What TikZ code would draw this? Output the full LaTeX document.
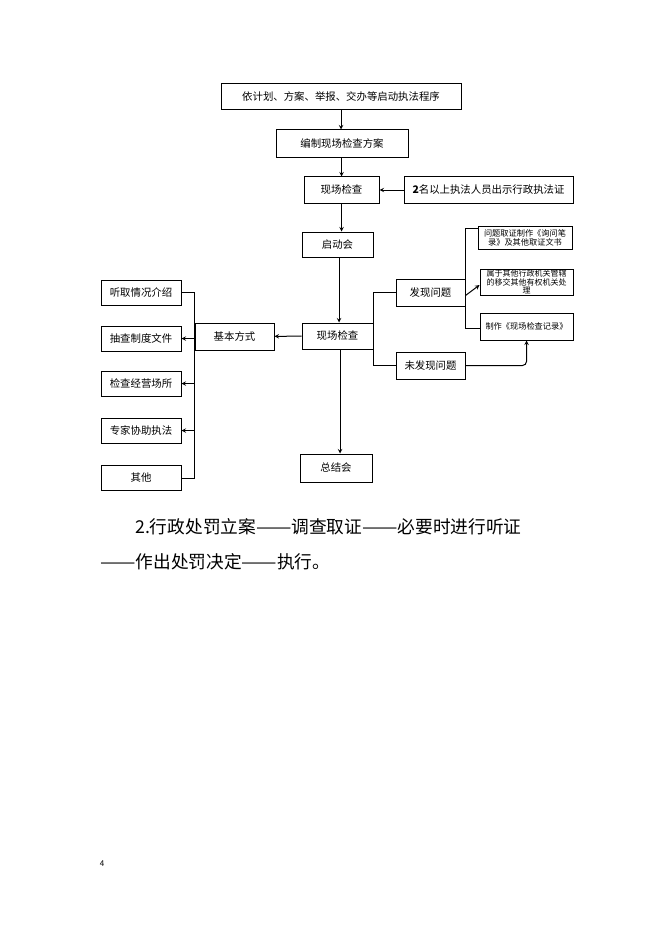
\documentclass[tikz,border=0pt]{standalone}
\usepackage{graphicx}
\usepackage{fontspec}
\setmainfont{Noto Sans CJK SC}
\newcommand{\longdash}{\resizebox{2em}{\height}{——}}

\begin{document}
\begin{tikzpicture}[x=1pt,y=-1pt,
    box/.style={draw, line width=1pt, inner sep=0pt, minimum height=26pt,
      font=\fontsize{10.4pt}{12pt}\selectfont},
    smallbox/.style={box, align=center, font=\fontsize{8.2pt}{8.8pt}\selectfont},
    link/.style={line width=1pt}]
	\def\xLEFT{141};
	\def\xRIGHT{526.5};

	\useasboundingbox (0,0) rectangle (662,936);

	% main column
	\node[box, minimum width=240pt] (start) at (341,97) {依计划、方案、举报、交办等启动执法程序};
	\node[box, minimum width=132pt, minimum height=28pt] (plan) at (342,144) {编制现场检查方案};
	\node[box, minimum width=75pt] (check) at (341.5,190) {现场检查};
	\node[box, minimum width=169pt] (staff) at (488.5,190) {\textbf{2}名以上执法人员出示行政执法证};
	\node[box, minimum width=71pt, minimum height=25pt] (kickoff) at (337.5,244.5) {启动会};
	\node[box, minimum width=71pt] (onsite) at (337.5,336) {现场检查};
	\node[box, minimum width=72pt, minimum height=28pt] (summary) at (336,468) {总结会};

	% left side
	\node[box, minimum width=79pt, minimum height=27pt] (basic) at (234.5,336.5) {基本方式};
	\foreach \name/\y/\txt in {listen/292.5/听取情况介绍, docs/338.5/抽查制度文件,
	    site/383.5/检查经营场所, expert/430.5/专家协助执法, other/478/其他}
	{
		\node[box, minimum width=80pt, minimum height=25pt] (\name) at (\xLEFT,\y) {\txt};
	}

	% right side
	\node[box, minimum width=69pt, minimum height=27pt] (found) at (430.5,292.5) {发现问题};
	\node[box, minimum width=69pt, minimum height=27pt] (notfound) at (430.5,365.5) {未发现问题};
	\node[smallbox, minimum width=94pt, minimum height=23pt] (evidence) at (525,237.5) {问题取证制作《询问笔\\录》及其他取证文书};
	\node[smallbox, minimum width=93pt, minimum height=26pt, font=\fontsize{8pt}{8.2pt}\selectfont] (transfer) at (\xRIGHT,282) {属于其他行政机关管辖\\的移交其他有权机关处\\理};
	\node[smallbox, minimum width=93pt, minimum height=27pt] (record) at (\xRIGHT,326.5) {制作《现场检查记录》};

	\begin{scope}[link, -stealth]
		\draw (start) -- (start |- plan.north);
		\draw (plan.south -| check) -- (check);
		\draw (staff) -- (check);
		\draw (check.south) -- (check.south |- kickoff.north);
		\draw (kickoff.south -| 339,0) -- (339,0 |- onsite.north);
		\draw (340,0 |- onsite.south) -- (340,0 |- summary.north);
		\draw (onsite) -- (basic);
		\foreach \name in {docs, site, expert}
		{
			\draw (basic.west |- \name.east) -- (\name.east);
		}
		\draw ([yshift=-3pt]found.east) -- ([yshift=-3pt]transfer.west);
		\draw[rounded corners=4pt] (notfound) -| (record.south);
	\end{scope}

	\begin{scope}[link]
		\draw (listen) -| (basic.west) |- (other);
		\draw (found) -| (onsite.east) |- (notfound);
		\draw ([yshift=-3pt]evidence.north west) -| (found.east) |- ([yshift=-2pt]record.west);
	\end{scope}

	% text below
	\node[anchor=west, inner sep=0pt, font=\fontsize{17.7pt}{20pt}\selectfont] (line1) at (135,527) {2.行政处罚立案\longdash 调查取证\longdash 必要时进行听证};
	\node[anchor=west, inner sep=0pt, font=\fontsize{17.7pt}{20pt}\selectfont] (line2) at (100,562) {\longdash 作出处罚决定\longdash 执行。};
	\node[font=\fontsize{8pt}{9pt}\selectfont] (page) at (102,864) {4};
\end{tikzpicture}
\end{document}
